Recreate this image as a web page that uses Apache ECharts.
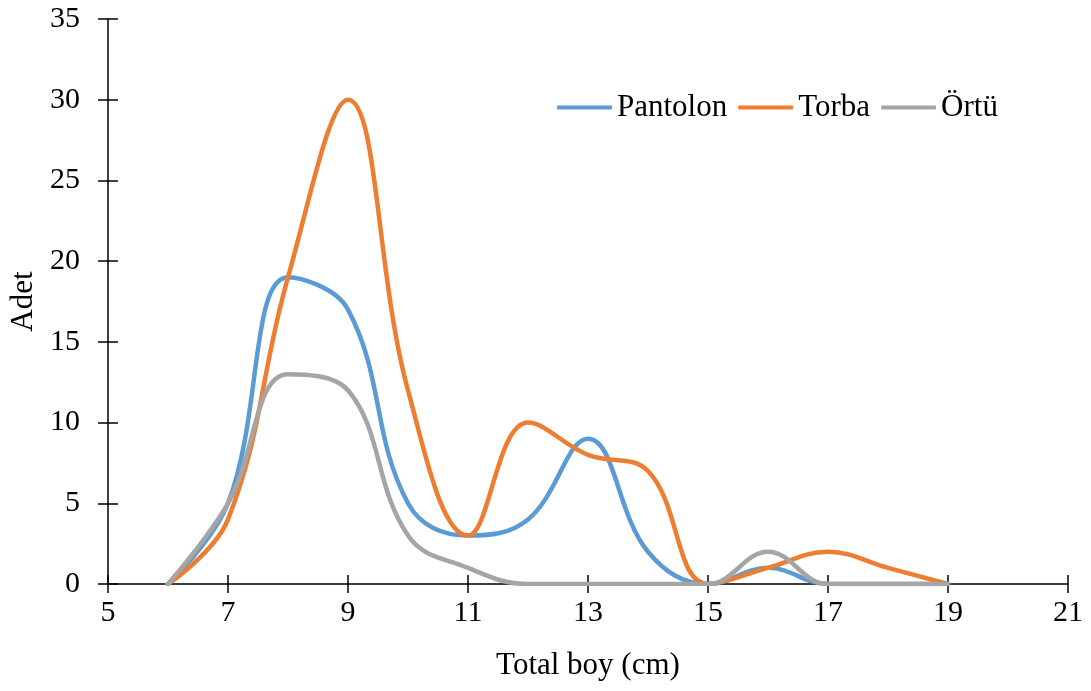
<!DOCTYPE html>
<html>
<head>
<meta charset="utf-8">
<script src="https://cdn.jsdelivr.net/npm/echarts@6/dist/echarts.min.js"></script>
<style>
  html, body { margin: 0; padding: 0; background: #ffffff; }
  #chart { width: 1091px; height: 691px; }
</style>
</head>
<body>
<div id="chart"></div>
<script>
// Length classes (cm) and counts per gear type
const lengths  = [6, 7, 8, 9, 10, 11, 12, 13, 14, 15, 16, 17, 18, 19];
const pantolon = [0, 5, 19, 17, 5, 3, 4, 9, 2, 0, 1, 0, 0, 0];
const torba    = [0, 4, 19, 30, 12, 3, 10, 8, 7, 0, 1, 2, 1, 0];
const ortu     = [0, 5, 13, 12, 3, 1, 0, 0, 0, 0, 2, 0, 0, 0];

const seriesNames  = ['Pantolon', 'Torba', 'Örtü'];
const seriesColors = ['#5B9BD5', '#ED7D31', '#A5A5A5'];

const FONT = 'Liberation Serif';
const toPairs = (ys) => lengths.map((x, i) => [x, ys[i]]);

const axisLine = { show: true, lineStyle: { color: '#000000', width: 1.5 } };
const tickStyle = { color: '#000000', width: 1.5 };

const chart = echarts.init(document.getElementById('chart'));
chart.setOption({
  animation: false,
  backgroundColor: '#ffffff',
  textStyle: { fontFamily: FONT },
  grid: { left: 108, right: 23, top: 19, bottom: 107, containLabel: false },
  legend: {
    left: 557, top: 92, padding: 0,
    icon: 'roundRect',
    itemWidth: 55, itemHeight: 4, itemGap: 11,
    textStyle: { fontFamily: FONT, fontSize: 31, color: '#000000', padding: [0, 0, 0, 0] },
    data: seriesNames
  },
  xAxis: [
    {
      type: 'value', position: 'bottom', min: 5, max: 21, interval: 2,
      name: 'Total boy (cm)', nameLocation: 'middle', nameGap: 66,
      nameTextStyle: { fontFamily: FONT, fontSize: 31, color: '#000000' },
      axisLine: axisLine,
      axisTick: { show: true, inside: false, length: 9, lineStyle: tickStyle },
      axisLabel: { margin: 14, fontFamily: FONT, fontSize: 30, color: '#000000' },
      splitLine: { show: false }
    },
    {
      // inner half of the crossing tick marks
      type: 'value', position: 'bottom', min: 5, max: 21, interval: 2,
      axisLine: { show: false },
      axisTick: { show: true, inside: true, length: 9, lineStyle: tickStyle },
      axisLabel: { show: false },
      splitLine: { show: false }
    }
  ],
  yAxis: [
    {
      type: 'value', position: 'left', min: 0, max: 35, interval: 5,
      name: 'Adet', nameLocation: 'middle', nameGap: 65,
      nameTextStyle: { fontFamily: FONT, fontSize: 31, color: '#000000' },
      axisLine: axisLine,
      axisTick: { show: true, inside: false, length: 10, lineStyle: tickStyle },
      axisLabel: { margin: 28, fontFamily: FONT, fontSize: 30, color: '#000000' },
      splitLine: { show: false }
    },
    {
      type: 'value', position: 'left', min: 0, max: 35, interval: 5,
      axisLine: { show: false },
      axisTick: { show: true, inside: true, length: 10, lineStyle: tickStyle },
      axisLabel: { show: false },
      splitLine: { show: false }
    }
  ],
  series: [pantolon, torba, ortu].map((ys, i) => ({
    name: seriesNames[i],
    type: 'line',
    xAxisIndex: 0,
    yAxisIndex: 0,
    data: toPairs(ys),
    smooth: 0.4,
    symbol: 'none',
    showSymbol: false,
    color: seriesColors[i],
    itemStyle: { color: seriesColors[i] },
    lineStyle: { color: seriesColors[i], width: 4.5, cap: 'round', join: 'round' },
    z: 2 + i
  }))
});
</script>
</body>
</html>
